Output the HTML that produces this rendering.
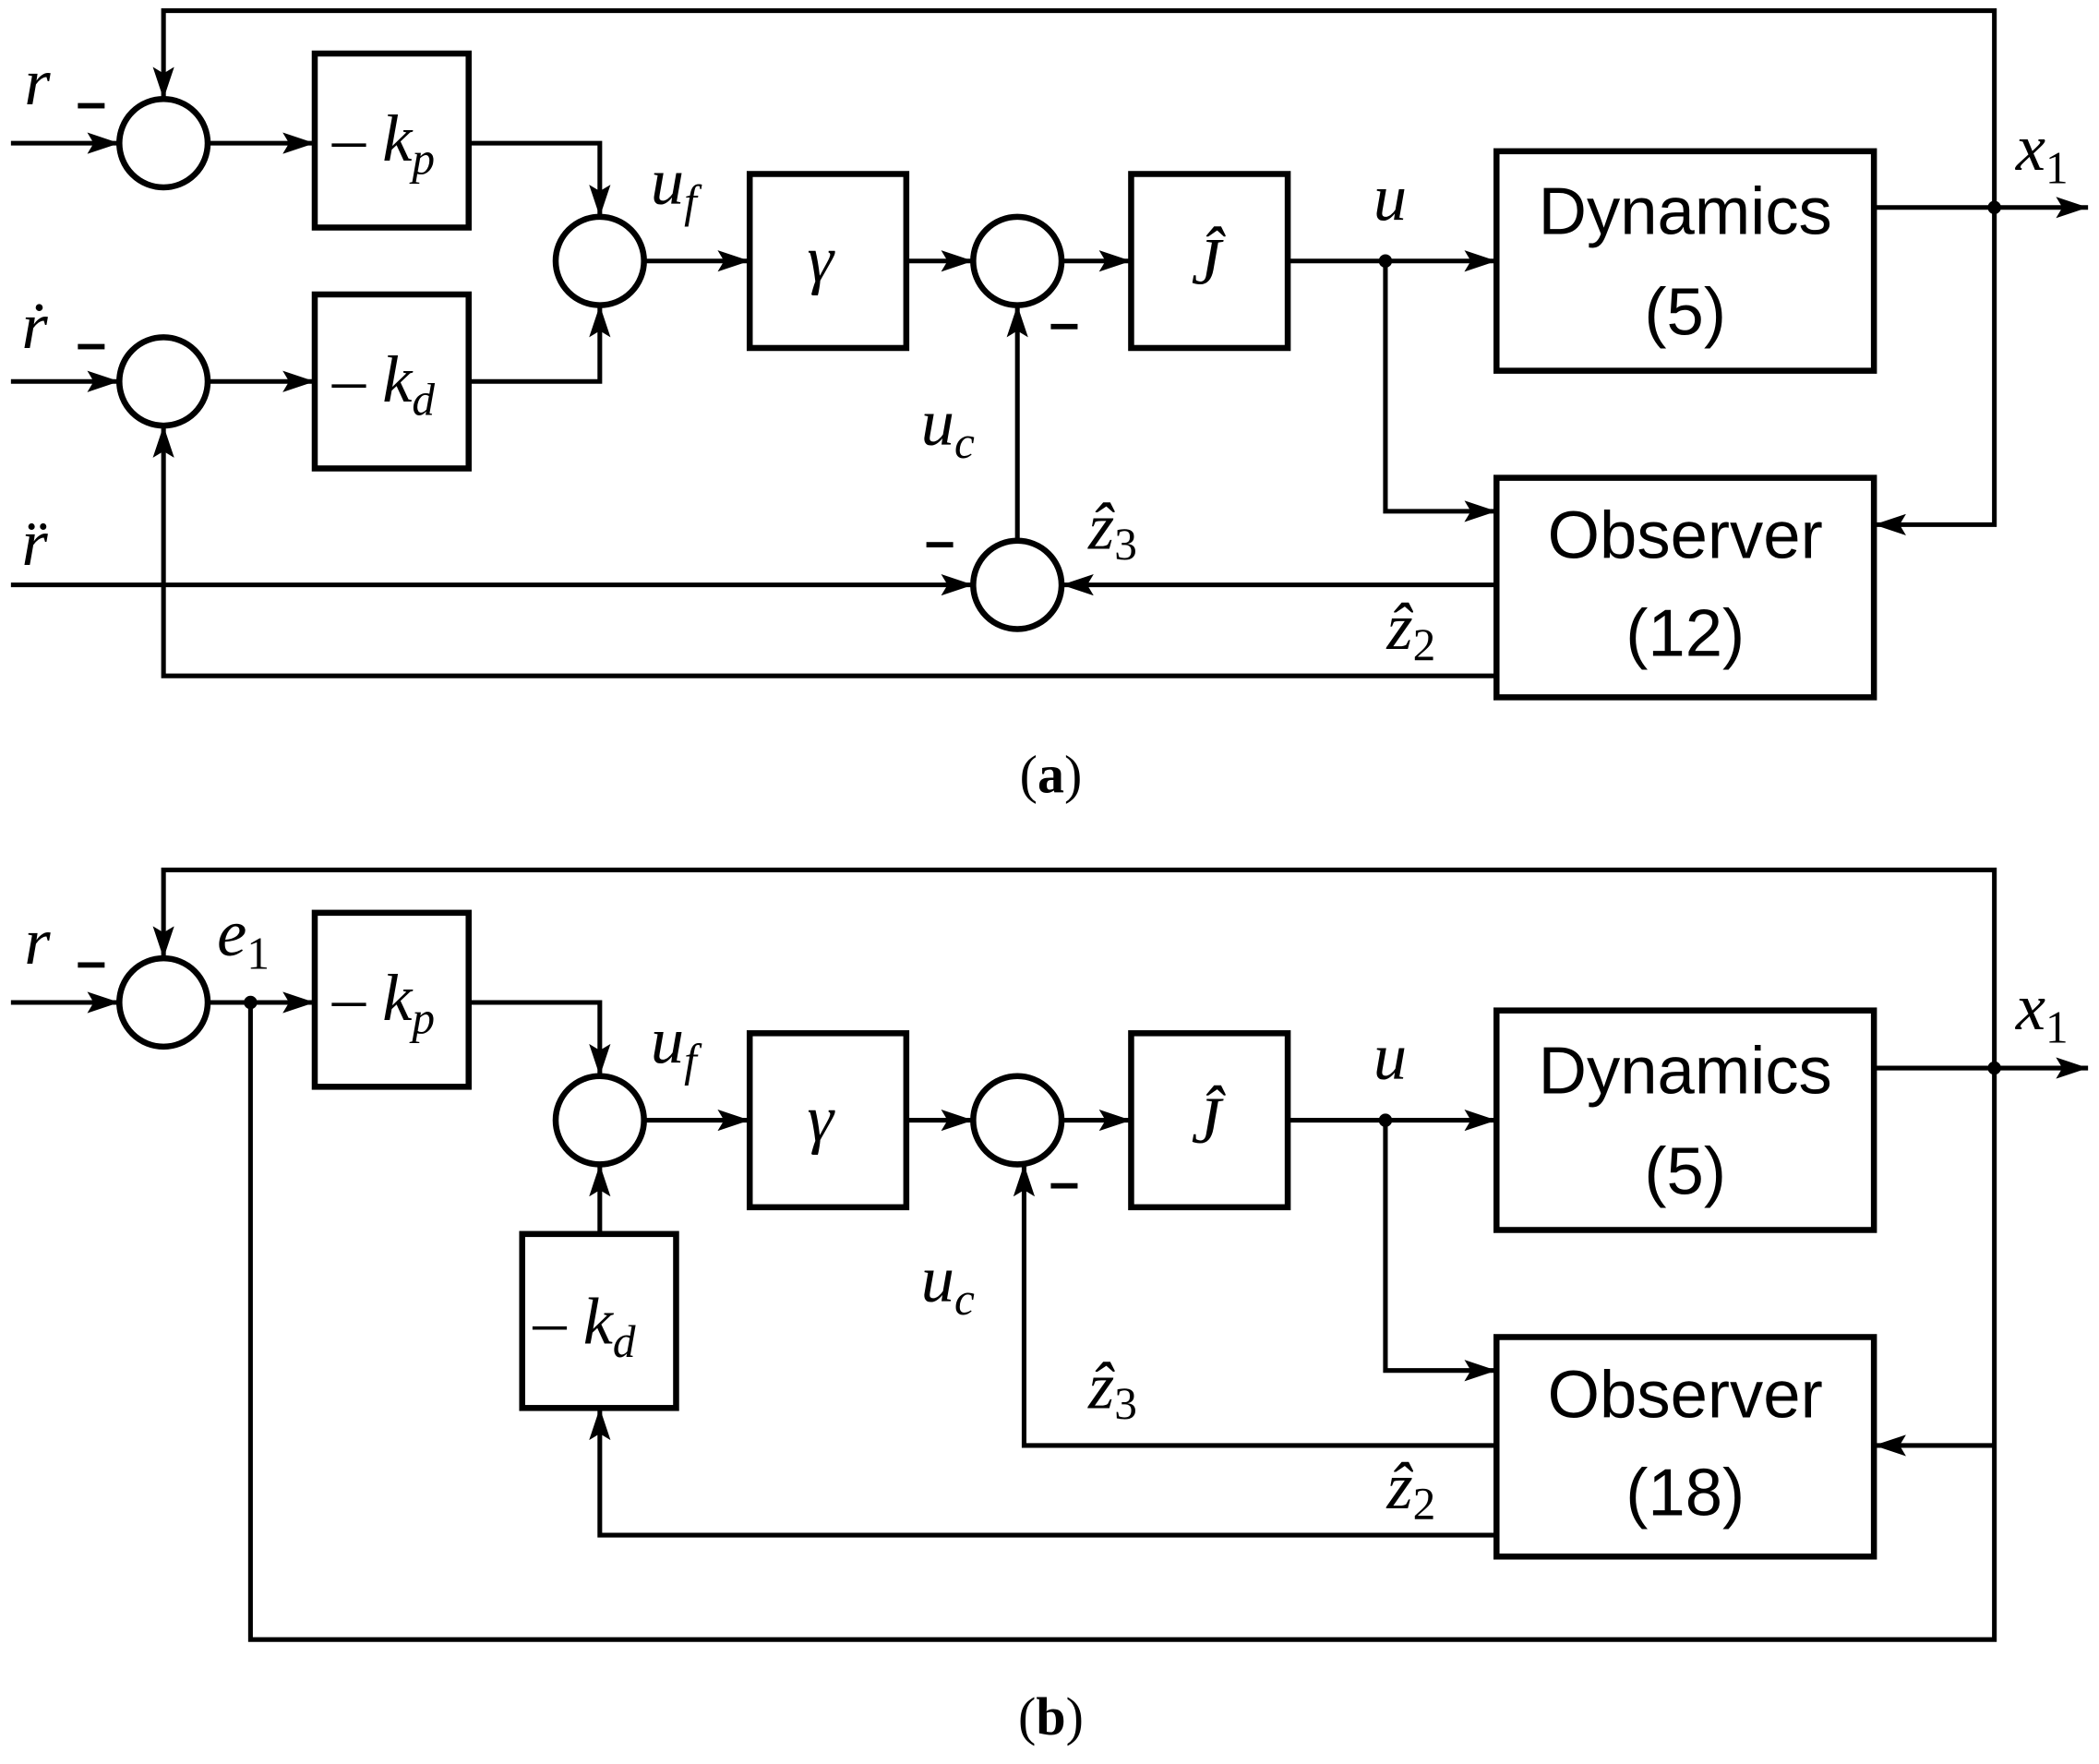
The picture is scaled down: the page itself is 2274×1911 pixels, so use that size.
<!DOCTYPE html>
<html><head><meta charset="utf-8"><style>
html,body{margin:0;padding:0;background:#fff}
svg{display:block}
.m{font-family:"Liberation Serif",serif;font-style:italic;font-size:50px}
.s{font-family:"Liberation Sans",sans-serif;font-size:50px}
.b{font-family:"Liberation Serif",serif;font-size:40px}
</style></head><body>
<svg width="2274" height="1911" viewBox="0 0 1568 1318" xmlns="http://www.w3.org/2000/svg">
<defs>
<marker id="A" viewBox="0 0 10 10" refX="10" refY="5" markerWidth="24" markerHeight="16" markerUnits="userSpaceOnUse" orient="auto" preserveAspectRatio="none"><path d="M0,0 L10,5 L0,10 L2,5 z" fill="#000"/></marker></defs>
<g fill="none" stroke="#000" stroke-width="3.5">
<!-- (a) -->
<polyline points="1490,155 1490,8 122,8 122,74" marker-end="url(#A)"/>
<line x1="8" y1="107" x2="89" y2="107" marker-end="url(#A)"/>
<line x1="155" y1="107" x2="235" y2="107" marker-end="url(#A)"/>
<polyline points="350,107 448,107 448,162" marker-end="url(#A)"/>
<line x1="8" y1="285" x2="89" y2="285" marker-end="url(#A)"/>
<line x1="155" y1="285" x2="235" y2="285" marker-end="url(#A)"/>
<polyline points="350,285 448,285 448,228" marker-end="url(#A)"/>
<line x1="481" y1="195" x2="560" y2="195" marker-end="url(#A)"/>
<line x1="677" y1="195" x2="727" y2="195" marker-end="url(#A)"/>
<line x1="793" y1="195" x2="845" y2="195" marker-end="url(#A)"/>
<line x1="962" y1="195" x2="1118" y2="195" marker-end="url(#A)"/>
<line x1="1400" y1="155" x2="1560" y2="155" marker-end="url(#A)"/>
<polyline points="1490,155 1490,392 1400,392" marker-end="url(#A)"/>
<polyline points="1035,195 1035,382 1118,382" marker-end="url(#A)"/>
<line x1="8" y1="437" x2="727" y2="437" marker-end="url(#A)"/>
<line x1="1118" y1="437" x2="793" y2="437" marker-end="url(#A)"/>
<line x1="760" y1="404" x2="760" y2="228" marker-end="url(#A)"/>
<polyline points="1118,505 122,505 122,318" marker-end="url(#A)"/>
<!-- (b) -->
<polyline points="1490,798 1490,650 122,650 122,716" marker-end="url(#A)"/>
<line x1="8" y1="749" x2="89" y2="749" marker-end="url(#A)"/>
<line x1="155" y1="749" x2="235" y2="749" marker-end="url(#A)"/>
<polyline points="350,749 448,749 448,804" marker-end="url(#A)"/>
<line x1="481" y1="837" x2="560" y2="837" marker-end="url(#A)"/>
<line x1="677" y1="837" x2="727" y2="837" marker-end="url(#A)"/>
<line x1="793" y1="837" x2="845" y2="837" marker-end="url(#A)"/>
<line x1="962" y1="837" x2="1118" y2="837" marker-end="url(#A)"/>
<line x1="1400" y1="798" x2="1560" y2="798" marker-end="url(#A)"/>
<polyline points="1490,798 1490,1225 187,1225 187,749"/>
<polyline points="1490,1080 1400,1080" marker-end="url(#A)"/>
<polyline points="1035,837 1035,1024 1118,1024" marker-end="url(#A)"/>
<line x1="448" y1="922" x2="448" y2="870" marker-end="url(#A)"/>
<polyline points="1118,1147 448,1147 448,1052" marker-end="url(#A)"/>
<polyline points="1118,1080 765,1080 765,870" marker-end="url(#A)"/>
</g>
<g fill="#fff" stroke="#000" stroke-width="4.5">
<circle cx="122" cy="107" r="33"/><circle cx="122" cy="285" r="33"/><circle cx="448" cy="195" r="33"/><circle cx="760" cy="195" r="33"/><circle cx="760" cy="437" r="33"/>
<rect x="235" y="40" width="115" height="130"/><rect x="235" y="220" width="115" height="130"/>
<rect x="560" y="130" width="117" height="130"/><rect x="845" y="130" width="117" height="130"/>
<rect x="1118" y="113" width="282" height="164"/><rect x="1118" y="357" width="282" height="164"/>
<circle cx="122" cy="749" r="33"/><circle cx="448" cy="837" r="33"/><circle cx="760" cy="837" r="33"/>
<rect x="235" y="682" width="115" height="130"/><rect x="390" y="922" width="115" height="130"/>
<rect x="560" y="772" width="117" height="130"/><rect x="845" y="772" width="117" height="130"/>
<rect x="1118" y="755" width="282" height="164"/><rect x="1118" y="999" width="282" height="164"/>
</g>
<g fill="#000"><circle cx="1035" cy="195" r="5"/><circle cx="1490" cy="155" r="5"/><circle cx="1035" cy="837" r="5"/><circle cx="1490" cy="798" r="5"/><circle cx="187" cy="749" r="5"/>
<rect x="58" y="77" width="20" height="4"/><rect x="58" y="257" width="20" height="4"/><rect x="692" y="405" width="20" height="4"/><rect x="785" y="242" width="20" height="4"/>
<rect x="58" y="719" width="20" height="4"/><rect x="785" y="884" width="20" height="4"/></g>
<g class="m">
<text x="18" y="78">r</text><text x="16" y="260">ṙ</text><text x="16" y="422">r̈</text>
<text x="248" y="120"><tspan font-style="normal">– </tspan>k<tspan font-size="34" dy="10">p</tspan></text>
<text x="248" y="300"><tspan font-style="normal">– </tspan>k<tspan font-size="34" dy="10">d</tspan></text>
<text x="486" y="152">u<tspan font-size="34" dy="10">f</tspan></text>
<text x="603" y="210">γ</text><text x="890" y="212">Ĵ</text>
<text x="1026" y="164">u</text><text x="1506" y="127">x<tspan font-size="34" font-style="normal" dy="10">1</tspan></text>
<text x="688" y="332">u<tspan font-size="34" dy="10">c</tspan></text>
<text x="813" y="410">ẑ<tspan font-size="34" font-style="normal" dy="8">3</tspan></text>
<text x="1036" y="485">ẑ<tspan font-size="34" font-style="normal" dy="8">2</tspan></text>
<text x="18" y="720">r</text><text x="162" y="714">e<tspan font-size="34" font-style="normal" dy="10">1</tspan></text>
<text x="248" y="762"><tspan font-style="normal">– </tspan>k<tspan font-size="34" dy="10">p</tspan></text>
<text x="398" y="1004"><tspan font-style="normal">– </tspan>k<tspan font-size="34" dy="10">d</tspan></text>
<text x="486" y="794">u<tspan font-size="34" dy="10">f</tspan></text>
<text x="603" y="852">γ</text><text x="890" y="854">Ĵ</text>
<text x="1026" y="806">u</text><text x="1506" y="769">x<tspan font-size="34" font-style="normal" dy="10">1</tspan></text>
<text x="688" y="972">u<tspan font-size="34" dy="10">c</tspan></text>
<text x="813" y="1052">ẑ<tspan font-size="34" font-style="normal" dy="8">3</tspan></text>
<text x="1036" y="1127">ẑ<tspan font-size="34" font-style="normal" dy="8">2</tspan></text>
</g>
<g class="s" text-anchor="middle">
<text x="1259" y="175">Dynamics</text><text x="1259" y="250">(5)</text>
<text x="1259" y="417">Observer</text><text x="1259" y="490">(12)</text>
<text x="1259" y="817">Dynamics</text><text x="1259" y="892">(5)</text>
<text x="1259" y="1059">Observer</text><text x="1259" y="1132">(18)</text>
</g>
<g class="b" text-anchor="middle"><text x="785" y="592">(<tspan font-weight="bold">a</tspan>)</text><text x="785" y="1296">(<tspan font-weight="bold">b</tspan>)</text></g>
</svg>
</body></html>
